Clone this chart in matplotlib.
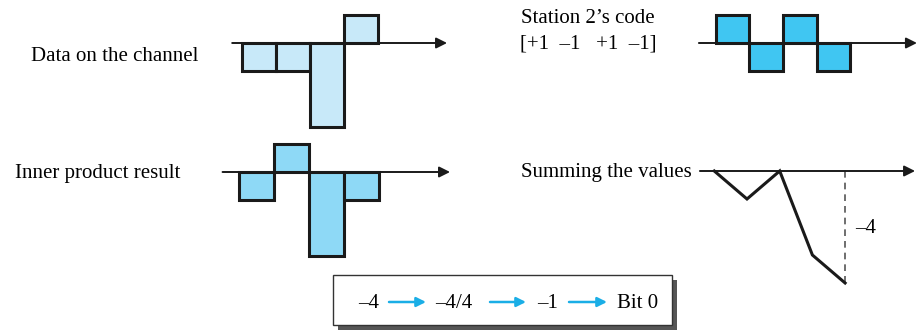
import matplotlib.pyplot as plt
from matplotlib.patches import Rectangle

# values
channel_data = [-1, -1, -3, 1]
station2_code = [1, -1, 1, -1]
inner_product = [-1, 1, -3, -1]
running_sum = [0, -1, 0, -3, -4]
chips = [0, 1, 2, 3]
sum_steps = [0, 1, 2, 3, 4]
decode_steps = ['–4', '–4/4', '–1', 'Bit 0']

W, H = 921, 330
FONT = 'Liberation Serif'
FS = 15

fig = plt.figure(figsize=(W / 100, H / 100), dpi=100)
bg = fig.add_axes([0, 0, 1, 1])
bg.set_xlim(0, W)
bg.set_ylim(H, 0)
bg.axis('off')


def panel_axes(x0, y0, sx, sy, xlim, ylim):
    '''axes in which one chip is sx px wide and one unit is sy px tall'''
    left = (x0 + xlim[0] * sx) / W
    bottom = (H - y0 + ylim[0] * sy) / H
    ax = fig.add_axes([left, bottom, (xlim[1] - xlim[0]) * sx / W,
                       (ylim[1] - ylim[0]) * sy / H])
    ax.set_xlim(xlim)
    ax.set_ylim(ylim)
    ax.axis('off')
    return ax


def draw_axis(ax, start, end):
    ax.annotate('', xy=(end, 0), xytext=(start, 0), annotation_clip=False,
                arrowprops=dict(arrowstyle='-|>', color='#1a1a1a', lw=1.4,
                                mutation_scale=16, shrinkA=0, shrinkB=0))


def draw_bars(ax, values, color):
    ax.bar(chips, values, width=1, align='edge', color=color,
           edgecolor='#1a1a1a', linewidth=2.2, zorder=3)


# data on the channel
ax1 = panel_axes(241.7, 43, 34, 28, (-0.5, 6.3), (-3.4, 1.4))
draw_axis(ax1, -0.28, 6.04)
draw_bars(ax1, channel_data, '#c8e9f9')

# station 2's code
ax2 = panel_axes(715.7, 43, 33.6, 28, (-0.6, 6.1), (-1.4, 1.4))
draw_axis(ax2, -0.5, 5.99)
draw_bars(ax2, station2_code, '#40c6f2')

# inner product
ax3 = panel_axes(239, 172, 35, 28, (-0.6, 6.2), (-3.4, 1.4))
draw_axis(ax3, -0.47, 6.03)
draw_bars(ax3, inner_product, '#8ed9f6')

# summing
ax4 = panel_axes(714.3, 171, 32.7, 28, (-0.6, 6.3), (-4.4, 0.6))
draw_axis(ax4, -0.44, 6.14)
ax4.plot(sum_steps, running_sum, color='#1a1a1a', lw=2.2, zorder=3,
         solid_joinstyle='miter')
ax4.plot([sum_steps[-1]] * 2, [0, running_sum[-1]], color='#555555',
         lw=1.2, ls=(0, (4, 3)))

# labels
bg.text(31, 61, 'Data on the channel', fontsize=FS, family=FONT, va='baseline')
bg.text(15, 178, 'Inner product result', fontsize=FS, family=FONT, va='baseline')
bg.text(588, 23, 'Station 2’s code', fontsize=FS, family=FONT,
        va='baseline', ha='center')
bg.text(588, 49, '[+1  –1   +1  –1]', fontsize=FS, family=FONT,
        va='baseline', ha='center')
bg.text(521, 177, 'Summing the values', fontsize=FS, family=FONT, va='baseline')
bg.text(855, 233, '–4', fontsize=FS, family=FONT, va='baseline')

# decoding box
bg.add_patch(Rectangle((338, 280), 339, 50, facecolor='#555555', edgecolor='none'))
bg.add_patch(Rectangle((333, 275), 339, 50, facecolor='white',
                       edgecolor='#333333', lw=1.0))
step_x = [358, 435, 537, 617]
for i, (x, s) in enumerate(zip(step_x, decode_steps)):
    t = bg.text(x, 308, s, fontsize=FS, family=FONT, va='baseline')
arrow_x = [(389, 426), (490, 526), (569, 607)]
for a, b in arrow_x:
    bg.annotate('', xy=(b, 302), xytext=(a, 302),
                arrowprops=dict(arrowstyle='-|>', color='#1aaee6', lw=1.8,
                                mutation_scale=14, shrinkA=0, shrinkB=0))

fig.savefig('out.png', dpi=100)
